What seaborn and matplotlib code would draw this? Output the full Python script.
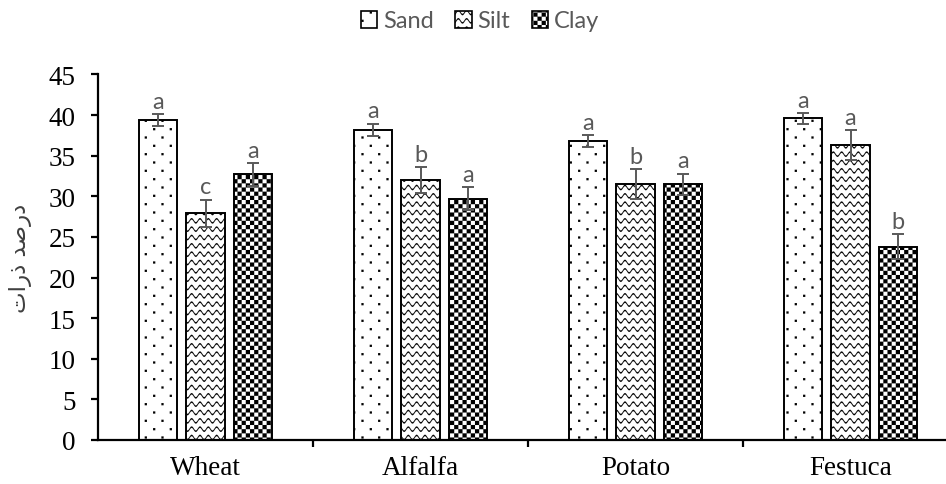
import numpy as np
import pandas as pd
import matplotlib
matplotlib.use("Agg")
import matplotlib.pyplot as plt
import matplotlib.hatch as mhatch
from matplotlib.path import Path
from matplotlib.patches import Patch
import seaborn as sns

# ---- data -------------------------------------------------------------
crops = ["Wheat", "Alfalfa", "Potato", "Festuca"]
fractions = ["Sand", "Silt", "Clay"]
sand = [39.4, 38.2, 36.8, 39.6]
silt = [27.9, 32.0, 31.5, 36.3]
clay = [32.7, 29.7, 31.5, 23.8]
sand_err = [0.7, 0.75, 0.7, 0.7]
silt_err = [1.7, 1.6, 1.8, 1.8]
clay_err = [1.4, 1.45, 1.3, 1.5]
sand_groups = ["a", "a", "a", "a"]
silt_groups = ["c", "b", "b", "a"]
clay_groups = ["a", "a", "a", "b"]
y_ticks = [0, 5, 10, 15, 20, 25, 30, 35, 40, 45]
# "درصد ذرات" written with Arabic presentation forms in display order
y_label = "\uFE95\uFE8D\uFEAD\uFEAB \uFEAA\uFEBB\uFEAD\uFEA9"


# ---- fill patterns for the bars (one hatch tile = 1 inch) ----------------
def _squares(centers, half):
    sq = np.array([[-half, -half], [half, -half], [half, half],
                   [-half, half], [-half, -half]])
    verts = (np.asarray(centers)[:, None, :] + sq[None]).reshape(-1, 2)
    codes = np.tile([Path.MOVETO, Path.LINETO, Path.LINETO, Path.LINETO,
                     Path.CLOSEPOLY], len(centers))
    return verts, codes


class DotHatch(mhatch.HatchPatternBase):
    rows, cols = 12, 6

    def __init__(self, hatch, density):
        self.num_vertices = self.rows * self.cols * 5 if "." in hatch else 0

    def set_vertices_and_codes(self, vertices, codes):
        pts = []
        for r in range(self.rows):
            y = (r + 0.5) / self.rows
            shift = (0.25 if r % 2 == 0 else 0.75) / self.cols
            for c in range(self.cols):
                pts.append((shift + c / self.cols, y))
        v, c = _squares(pts, 0.011)
        vertices[:] = v
        codes[:] = c


class WaveHatch(mhatch.HatchPatternBase):
    rows, periods, steps = 12, 12, 10

    def __init__(self, hatch, density):
        n = self.periods * self.steps + 1
        self.num_vertices = self.rows * (2 * n + 1) if "o" in hatch else 0

    def set_vertices_and_codes(self, vertices, codes):
        n = self.periods * self.steps + 1
        x = np.linspace(0, 1, n)
        wave = 0.021 * np.cos(2 * np.pi * self.periods * x)
        t = 0.0075
        blocks, cblocks = [], []
        for r in range(self.rows):
            y0 = (r + 0.5) / self.rows + wave
            top = np.column_stack([x, y0 + t])
            bot = np.column_stack([x[::-1], (y0 - t)[::-1]])
            ring = np.vstack([top, bot, top[:1]])
            cc = np.full(len(ring), Path.LINETO)
            cc[0] = Path.MOVETO
            cc[-1] = Path.CLOSEPOLY
            blocks.append(ring)
            cblocks.append(cc)
        vertices[:] = np.vstack(blocks)
        codes[:] = np.concatenate(cblocks)


class CheckHatch(mhatch.HatchPatternBase):
    n = 24

    def __init__(self, hatch, density):
        self.num_vertices = (self.n * self.n // 2) * 5 if "O" in hatch else 0

    def set_vertices_and_codes(self, vertices, codes):
        pts = [((i + 0.5) / self.n, (j + 0.5) / self.n)
               for i in range(self.n) for j in range(self.n) if (i + j) % 2 == 0]
        v, c = _squares(pts, 0.5 / self.n)
        vertices[:] = v
        codes[:] = c


mhatch._hatch_types[:] = [DotHatch, WaveHatch, CheckHatch]
hatches = {"Sand": ".", "Silt": "o", "Clay": "O"}

# ---- figure -------------------------------------------------------------
sns.set_theme(style="white")
plt.rcParams["font.family"] = ["Liberation Serif", "DejaVu Sans"]
plt.rcParams["hatch.linewidth"] = 0.05
plt.rcParams["hatch.color"] = "black"

df = pd.DataFrame({
    "crop": np.repeat(crops, 3),
    "fraction": fractions * len(crops),
    "value": np.ravel(np.column_stack([sand, silt, clay])),
})

fig = plt.figure(figsize=(9.46, 4.85), dpi=100)
ax = fig.add_axes([98 / 946, 44 / 485, 860 / 946, 365.6 / 485])

sns.barplot(data=df, x="crop", y="value", hue="fraction", order=crops,
            hue_order=fractions, palette={f: "white" for f in fractions},
            saturation=1, edgecolor="black", linewidth=1.4, width=0.663,
            gap=0.2, legend=False, ax=ax)

errs = [sand_err, silt_err, clay_err]
vals = [sand, silt, clay]
groups = [sand_groups, silt_groups, clay_groups]
gray = "#595959"
for cont, frac, v, e, g in zip(ax.containers, fractions, vals, errs, groups):
    xs = []
    for bar in cont:
        bar.set_hatch(hatches[frac])
        xs.append(bar.get_x() + bar.get_width() / 2)
    ax.errorbar(xs, v, yerr=e, fmt="none", ecolor=gray, elinewidth=1.4,
                capsize=4.3, capthick=1.4, zorder=4)
    for x, val, err, lab in zip(xs, v, e, g):
        ax.annotate(lab, (x, val + err), xytext=(0, 1.5),
                    textcoords="offset points", ha="center", va="bottom",
                    fontsize=17, color=gray, family="Lato")

ax.set_ylim(0, 45)
ax.set_yticks(y_ticks)
ax.set_xlim(-0.5, 3.5)
ax.set_xlabel("")
ax.set_ylabel("")
for side in ("top", "right"):
    ax.spines[side].set_visible(False)
for side in ("left", "bottom"):
    ax.spines[side].set_linewidth(1.6)
    ax.spines[side].set_color("black")
ax.tick_params(axis="y", which="major", direction="out", length=5, width=1.6,
               labelsize=19.5, colors="black", pad=11, left=True)
ax.tick_params(axis="x", which="major", length=0, labelsize=19.5, pad=11,
               colors="black")
ax.set_xticks([0.5, 1.5, 2.5], minor=True)
ax.tick_params(axis="x", which="minor", direction="out", length=5, width=1.6,
               bottom=True, color="black")
ax.grid(False)

fig.text(21 / 946, 1 - 258 / 485, y_label, rotation=90, ha="center",
         va="center", fontsize=16.5, color="#404040", family="DejaVu Sans")

handles = [Patch(facecolor="white", edgecolor="black", linewidth=1.2,
                 hatch=hatches[f], label=f) for f in fractions]
leg = fig.legend(handles=handles, loc="center", ncol=3, frameon=False,
                 bbox_to_anchor=(480 / 946, 1 - 22 / 485),
                 prop={"family": "Lato", "size": 17},
                 handlelength=0.7, handleheight=0.7, handletextpad=0.25,
                 columnspacing=0.9)
for t in leg.get_texts():
    t.set_color(gray)

fig.savefig("out.png", dpi=100)
